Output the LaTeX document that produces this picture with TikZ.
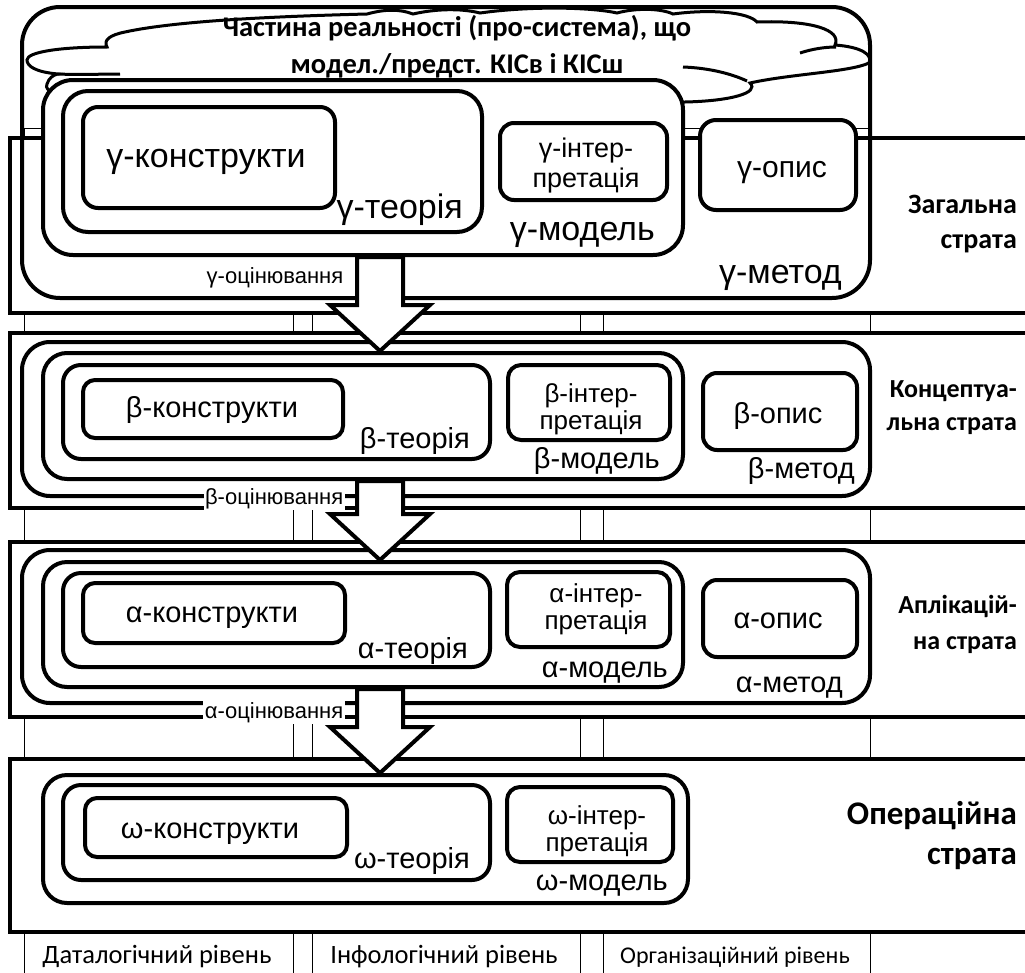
\documentclass[tikz,border=0pt]{standalone}
\usepackage{fontspec}
\setmainfont{Liberation Sans}
\newfontfamily\calfont{Carlito}
\usetikzlibrary{fit,calc}

\newcommand\gsz{\fontsize{34}{38}\selectfont}
\newcommand\bsz{\fontsize{29}{34}\selectfont}
\newcommand\gisz{\fontsize{27}{30}\selectfont}
\newcommand\bisz{\fontsize{26}{27}\selectfont}
% block arrow between strata: from the bottom of one model to the top of the next
\newcommand\strarrow[2]{%
  \draw[bigarrow] ($(ax |- #1.south)+(-23,0)$) -- ($(ax |- #2.north)+(-23,-46)$)
    -- ($(ax |- #2.north)+(-50,-46)$) -- (ax |- #2.north)
    -- ($(ax |- #2.north)+(50,-46)$) -- ($(ax |- #2.north)+(23,-46)$)
    -- ($(ax |- #1.south)+(23,0)$) -- cycle;}

\begin{document}
\begin{tikzpicture}[x=1pt,y=-1pt,
tabline/.style={line width=0.9pt},
stratbox/.style={draw,line width=3.5pt,fill=white,inner sep=0pt},
rbox/.style={draw,line width=4pt,fill=white,inner sep=0pt,rounded corners=#1},
metbox/.style={rbox=#1,fill=none},
cloudline/.style={draw,line width=3pt,fill=white},
crease/.style={line width=3pt},
bigarrow/.style={line width=4pt,fill=white,line join=miter},
txt/.style={inner sep=0pt,anchor=base},
two/.style={inner sep=0pt,align=center},
lbl/.style={inner sep=0pt,anchor=base east},
evl/.style={inner sep=1.5pt,fill=white,anchor=base east,font=\fontsize{22}{24}\selectfont},
strat/.style={inner sep=0pt,align=right,anchor=east},
level/.style={inner sep=0pt,anchor=base,font=\calfont\fontsize{26.5}{30}\selectfont}]
\clip (0,0) rectangle (1025,972);
\fill[white] (0,0) rectangle (1025,972);
\coordinate (ax) at (380,0);

% table of levels
\foreach \x in {24,293,312,580,603,870} \draw[tabline] (\x,128) -- (\x,980);
\draw[tabline] (24,128) -- (870,128);

% strata
\node[stratbox,fit={(10,138)(1040,313)}] (sg) {};
\node[stratbox,fit={(10,333)(1040,508)}] (sb) {};
\node[stratbox,fit={(10,542)(1040,717)}] (sa) {};
\node[stratbox,fit={(10,759)(1040,932)}] (so) {};

% gamma
\node[metbox=38pt,fit={(22,7)(870,298)}] (gmet) {};
\path[cloudline] (80,101) .. controls (62,97) and (43,92) .. (47,84)
  .. controls (49,78) and (53,75) .. (58,74)
  .. controls (35,72) and (27,66) .. (27,60)
  .. controls (27,52) and (60,47) .. (107,47)
  .. controls (103,40) and (110,35) .. (125,32)
  .. controls (180,20) and (290,16) .. (367,14)
  .. controls (385,9) and (400,9) .. (413,14)
  .. controls (435,9) and (460,8) .. (480,13)
  .. controls (530,6) and (590,7) .. (617,13)
  .. controls (635,8) and (660,8) .. (673,14)
  .. controls (710,9) and (748,12) .. (757,22)
  .. controls (812,20) and (842,30) .. (835,45)
  .. controls (862,47) and (873,55) .. (869,63)
  .. controls (850,72) and (790,74) .. (750,83)
  .. controls (760,93) and (730,101) .. (685,102)
  -- cycle;
\draw[crease] (58,74) .. controls (80,75) and (100,74) .. (120,74);
\draw[crease] (800,53) .. controls (812,49) and (825,47) .. (836,47);
\draw[crease] (683,67) .. controls (710,68) and (732,74) .. (747,81);
\node[two,font=\calfont\bfseries\fontsize{28.5}{37}\selectfont] (real) at (457,47)
  {Частина реальності (про-система), що\\модел./предст. КІСв і КІСш};
\node[rbox=30pt,fit={(43,80)(683,255)}] (gmod) {};
\node[rbox=25pt,fit={(63,91)(482,232)}] (gteo) {};
\node[rbox=15pt,fit={(83,107)(335,208)}] (gcon) {};
\node[rbox=14pt,fit={(500,123)(667,200)}] (gint) {};
\node[rbox=16pt,fit={(700,120)(856,210)}] (gops) {};
\node[txt,font=\gsz] (gcont) at (206,167) {γ-конструкти};
\node[two,font=\gisz] (gintt) at (586,166) {γ-інтер-\\претація};
\node[txt,font=\fontsize{30}{34}\selectfont] (gopst) at (782,177) {γ-опис};
\node[lbl,font=\gsz] (gteot) at (463,218) {γ-теорія};
\node[lbl,font=\gsz] (gmodt) at (655,240) {γ-модель};
\node[lbl,font=\gsz] (gmett) at (842,283) {γ-метод};
\node[evl] (gev) at (345,283) {γ-оцінювання};
\node[strat,font=\calfont\bfseries\fontsize{28}{35}\selectfont] (lg) at (1017,224) {Загальна\\страта};

% beta
\node[metbox=28pt,fit={(22,342)(870,496)}] (bmet) {};
\node[rbox=24pt,fit={(43,353)(683,479)}] (bmod) {};
\node[rbox=18pt,fit={(63,365)(490,459)}] (bteo) {};
\node[rbox=12pt,fit={(83,380)(343,438)}] (bcon) {};
\node[rbox=13pt,fit={(508,365)(670,440)}] (bint) {};
\node[rbox=14pt,fit={(703,373)(857,450)}] (bops) {};
\node[txt,font=\bsz] (bcont) at (212,417) {β-конструкти};
\node[two,font=\bisz] (bintt) at (591,409) {β-інтер-\\претація};
\node[txt,font=\bsz] (bopst) at (778,423) {β-опис};
\node[lbl,font=\bsz] (bteot) at (470,448) {β-теорія};
\node[lbl,font=\bsz] (bmodt) at (660,468) {β-модель};
\node[lbl,font=\bsz] (bmett) at (855,478) {β-метод};
\node[evl] (bev) at (345,504) {β-оцінювання};
\node[strat,font=\calfont\bfseries\fontsize{26}{33}\selectfont] (lb) at (1017,408) {Концептуа-\\льна страта};

% alpha
\node[metbox=28pt,fit={(22,550)(870,703)}] (amet) {};
\node[rbox=24pt,fit={(43,562)(683,687)}] (amod) {};
\node[rbox=18pt,fit={(63,573)(490,667)}] (ateo) {};
\node[rbox=12pt,fit={(83,583)(345,643)}] (acon) {};
\node[rbox=13pt,fit={(507,572)(670,647)}] (aint) {};
\node[rbox=14pt,fit={(703,580)(857,657)}] (aops) {};
\node[txt,font=\bsz] (acont) at (212,622) {α-конструкти};
\node[two,font=\bisz] (aintt) at (596,609) {α-інтер-\\претація};
\node[txt,font=\bsz] (aopst) at (778,628) {α-опис};
\node[lbl,font=\bsz] (ateot) at (468,658) {α-теорія};
\node[lbl,font=\bsz] (amodt) at (668,677) {α-модель};
\node[lbl,font=\bsz] (amett) at (843,692) {α-метод};
\node[evl] (aev) at (345,718) {α-оцінювання};
\node[strat,font=\calfont\bfseries\fontsize{26}{36}\selectfont] (la) at (1017,624) {Аплікацій-\\на страта};

% omega
\node[rbox=24pt,fit={(43,775)(688,903)}] (omod) {};
\node[rbox=18pt,fit={(63,785)(490,880)}] (oteo) {};
\node[rbox=12pt,fit={(85,798)(347,857)}] (ocon) {};
\node[rbox=13pt,fit={(507,787)(673,862)}] (oint) {};
\node[txt,font=\bsz] (ocont) at (210,838) {ω-конструкти};
\node[two,font=\bisz] (ointt) at (597,831) {ω-інтер-\\претація};
\node[lbl,font=\bsz] (oteot) at (470,868) {ω-теорія};
\node[lbl,font=\bsz] (omodt) at (668,890) {ω-модель};
\node[strat,font=\calfont\bfseries\fontsize{33}{40}\selectfont] (lo) at (1017,836) {Операційна\\страта};

% passing down the strata
\strarrow{gmod}{bmod}
\strarrow{bmod}{amod}
\strarrow{amod}{omod}

% levels
\node[level] (dl) at (157,963) {Даталогічний рівень};
\node[level] (il) at (444,963) {Інфологічний рівень};
\node[level,font=\calfont\fontsize{24}{27}\selectfont] (ol) at (735,963) {Організаційний рівень};
\end{tikzpicture}
\end{document}
